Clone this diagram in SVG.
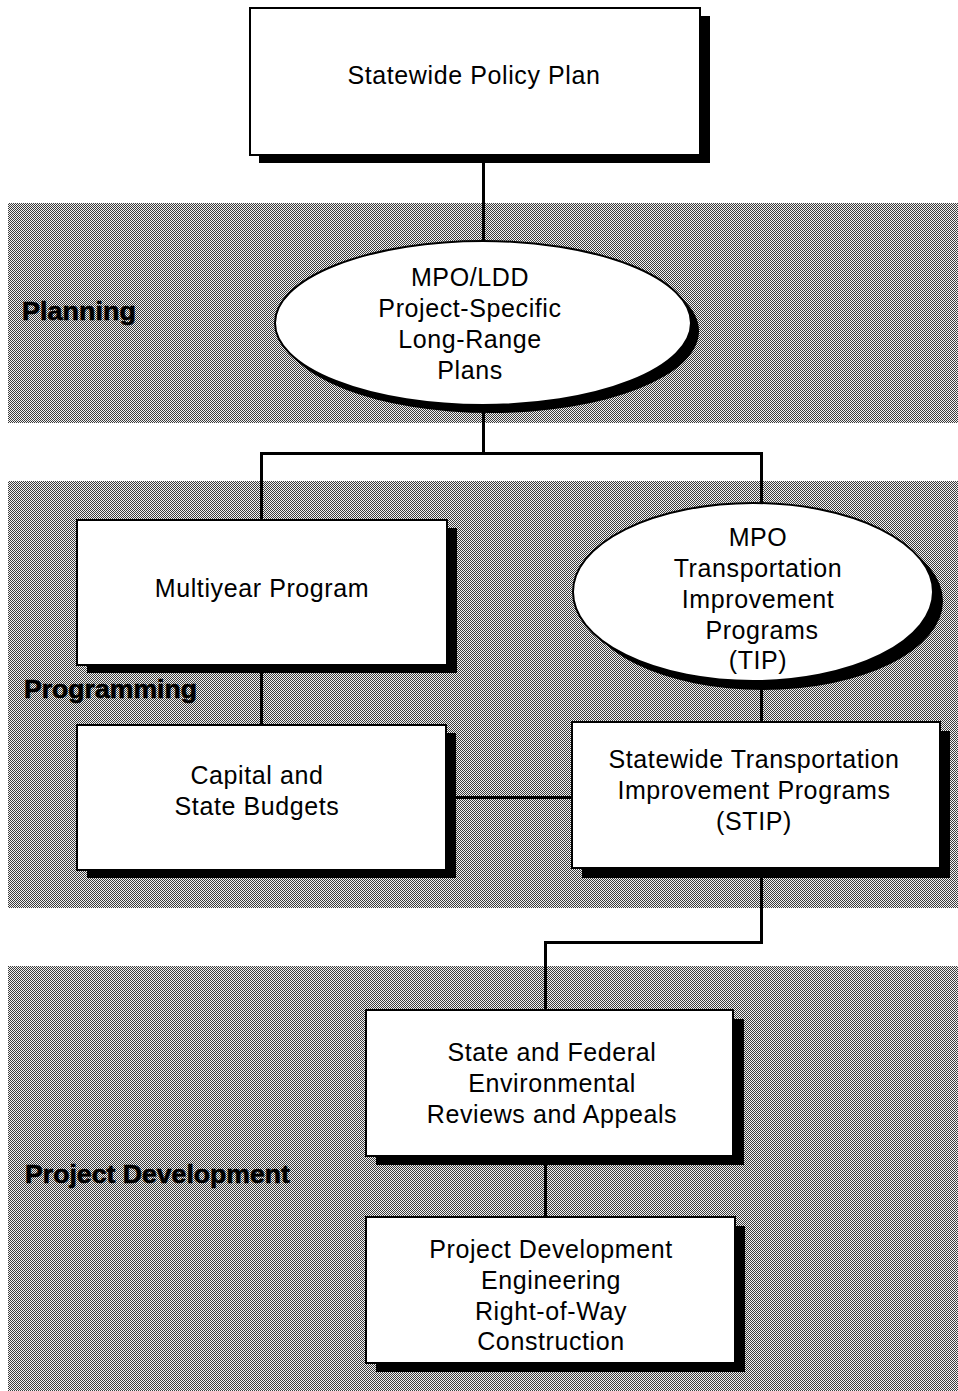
<svg xmlns="http://www.w3.org/2000/svg" width="958" height="1391" viewBox="0 0 958 1391">
<defs>
<pattern id="dither" width="2" height="2" patternUnits="userSpaceOnUse">
<rect width="2" height="2" fill="#f2f2f2"/>
<rect x="0" y="0" width="1" height="1" fill="#3c3c3c"/>
<rect x="1" y="1" width="1" height="1" fill="#3c3c3c"/>
</pattern>
</defs>
<style>
.band{fill:url(#dither);}
.box{fill:#fff;stroke:#000;stroke-width:2;}
.shadow{fill:#000;}
.t{font-family:"Liberation Sans",Arial,sans-serif;font-size:25px;letter-spacing:0.6px;text-anchor:middle;fill:#000;}
.lbl{font-family:"Liberation Sans",Arial,sans-serif;font-size:25px;font-weight:bold;fill:#000;stroke:#000;stroke-width:0.6;}
.conn{fill:none;stroke:#000;stroke-width:3;}
</style>
<rect width="958" height="1391" fill="#fff"/>
<g id="bands">
<rect class="band" x="8" y="203" width="950" height="220"/>
<rect class="band" x="8" y="481" width="950" height="427"/>
<rect class="band" x="8" y="966" width="950" height="425"/>
<text class="lbl" x="22" y="320" textLength="114" lengthAdjust="spacingAndGlyphs">Planning</text>
<text class="lbl" x="24" y="698" textLength="173" lengthAdjust="spacingAndGlyphs">Programming</text>
<text class="lbl" x="25" y="1183" textLength="265" lengthAdjust="spacingAndGlyphs">Project Development</text>
</g>
<g id="connectors">
<path class="conn" d="M483.5 155 V242"/>
<path class="conn" d="M483.5 405 V453.5 M261.5 453.5 H761.5 M261.5 452 V520 M761.5 452 V505"/>
<path class="conn" d="M261.5 665 V724"/>
<path class="conn" d="M761.5 680 V722"/>
<path class="conn" d="M455 797.5 H572"/>
<path class="conn" d="M761.5 868 V942.5 H545.5 V1010"/>
<path class="conn" d="M545.5 1156 V1217"/>
</g>
<g id="statewide-policy-plan">
<rect class="shadow" x="259" y="16" width="451" height="147"/>
<rect class="box" x="250" y="8" width="450" height="147"/>
<text class="t" x="474" y="84">Statewide Policy Plan</text>
</g>
<g id="mpo-ldd">
<ellipse class="shadow" cx="491" cy="331" rx="208" ry="82"/>
<ellipse class="box" cx="483" cy="323" rx="208" ry="82"/>
<text class="t" x="470" y="286">MPO/LDD</text>
<text class="t" x="470" y="317">Project-Specific</text>
<text class="t" x="470" y="348">Long-Range</text>
<text class="t" x="470" y="379">Plans</text>
</g>
<g id="multiyear-program">
<rect class="shadow" x="87" y="528" width="370" height="145"/>
<rect class="box" x="77" y="520" width="370" height="145"/>
<text class="t" x="262" y="597">Multiyear Program</text>
</g>
<g id="mpo-tip">
<ellipse class="shadow" cx="763" cy="601" rx="180" ry="89"/>
<ellipse class="box" cx="753" cy="592" rx="180" ry="89"/>
<text class="t" x="758" y="546">MPO</text>
<text class="t" x="758" y="577">Transportation</text>
<text class="t" x="758" y="608">Improvement</text>
<text class="t" x="762" y="639">Programs</text>
<text class="t" x="758" y="669">(TIP)</text>
</g>
<g id="capital-state-budgets">
<rect class="shadow" x="87" y="733" width="369" height="145"/>
<rect class="box" x="77" y="725" width="369" height="145"/>
<text class="t" x="257" y="784">Capital and</text>
<text class="t" x="257" y="815">State Budgets</text>
</g>
<g id="stip">
<rect class="shadow" x="582" y="731" width="368" height="147"/>
<rect class="box" x="572" y="722" width="368" height="146"/>
<text class="t" x="754" y="768">Statewide Transportation</text>
<text class="t" x="754" y="799">Improvement Programs</text>
<text class="t" x="754" y="830">(STIP)</text>
</g>
<g id="environmental-reviews">
<rect class="shadow" x="376" y="1019" width="368" height="146"/>
<rect class="box" x="366" y="1010" width="367" height="146"/>
<text class="t" x="552" y="1061">State and Federal</text>
<text class="t" x="552" y="1092">Environmental</text>
<text class="t" x="552" y="1123">Reviews and Appeals</text>
</g>
<g id="project-development">
<rect class="shadow" x="376" y="1226" width="369" height="146"/>
<rect class="box" x="366" y="1217" width="369" height="146"/>
<text class="t" x="551" y="1258">Project Development</text>
<text class="t" x="551" y="1289">Engineering</text>
<text class="t" x="551" y="1320">Right-of-Way</text>
<text class="t" x="551" y="1350">Construction</text>
</g>
</svg>
